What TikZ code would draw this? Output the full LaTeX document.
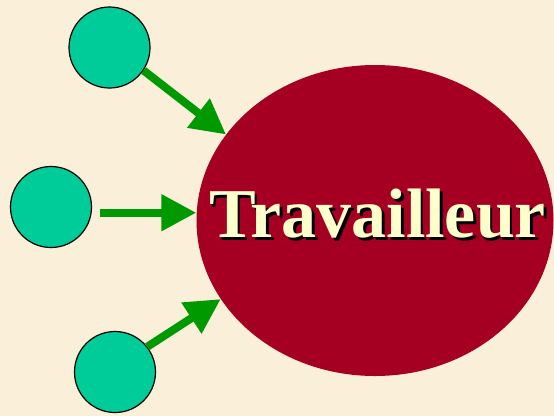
\documentclass[tikz,border=0pt]{standalone}
\usepackage{fontspec}
\setmainfont{Liberation Serif}
\usetikzlibrary{shapes.geometric,arrows.meta}

\definecolor{parchment}{HTML}{FAEFD8}
\definecolor{bead}{HTML}{00CC99}
\definecolor{flow}{HTML}{009900}
\definecolor{wine}{HTML}{A50021}
\definecolor{cream}{HTML}{FFFFCC}

% text with a dark drop shadow behind it
\newcommand{\shadowtext}[1]{%
  \makebox[0pt][l]{\hspace{2.5pt}\raisebox{-2.5pt}{\color{black}#1}}%
  {\color{cream}#1}}

\tikzset{
  bead/.style={circle, draw=black, line width=1.2pt, fill=bead,
               minimum size=81pt, inner sep=0pt},
  worker/.style={ellipse, fill=wine, minimum width=357pt,
                 minimum height=311pt, inner sep=0pt},
  feed/.style={draw=flow, line width=8pt,
               -{Triangle[length=35pt,width=35pt]}},
  label/.style={font=\bfseries\fontsize{70}{70}\selectfont,
                anchor=base, inner sep=0pt}
}

\begin{document}
\begin{tikzpicture}[x=1pt, y=-1pt]
  % page and background
  \fill[parchment] (0,0) rectangle (554,416);
  \useasboundingbox (0,0) rectangle (554,416);

  % the worker and the three inputs
  \node[worker] (w) at (375,220.5) {};
  \node[bead] (c1) at (109.5,47.5) {};
  \node[bead] (c2) at (51,207) {};
  \node[bead] (c3) at (115,372) {};

  % shadowed title
  \node[label] (title) at (377.5,237.5) {\shadowtext{Travailleur}};

  % arrows into the worker
  \draw[feed] (c1.-34) -- (w.150.6);
  \draw[feed, shorten <=8pt] (c2.-8.6) -- (c2.-8.6 -| w.west);
  \draw[feed] (c3.38) -- (w.207.6);
\end{tikzpicture}
\end{document}
